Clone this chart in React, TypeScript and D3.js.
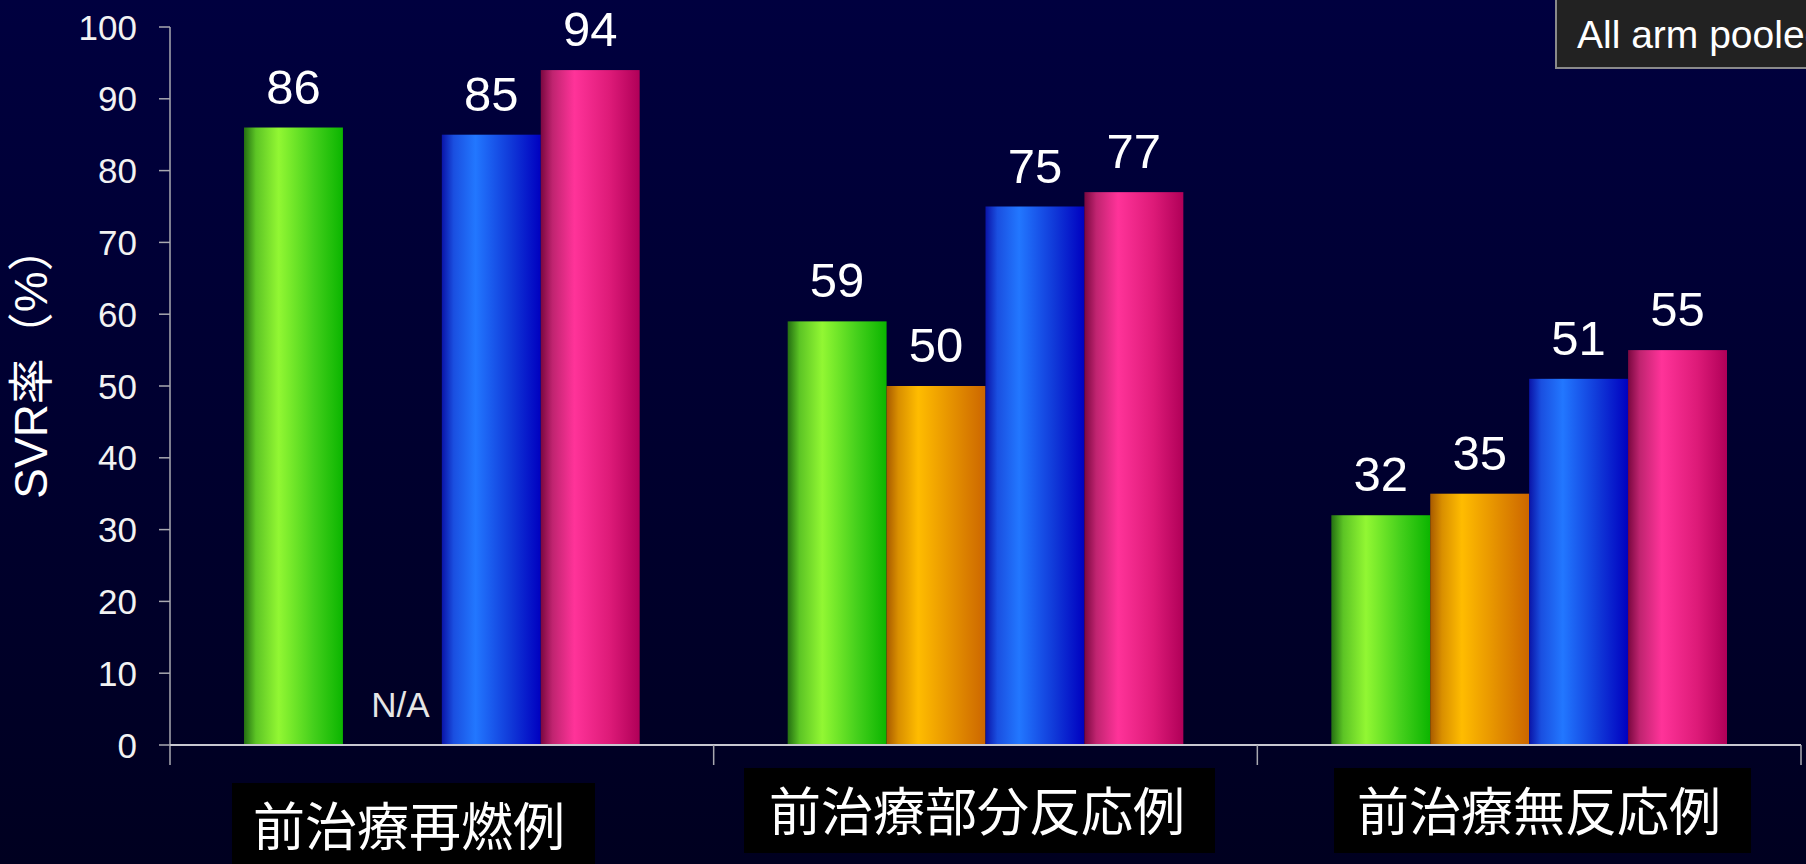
import React, { useEffect } from "react";
import * as d3 from "d3";

const categories = ["前治療再燃例", "前治療部分反応例", "前治療無反応例"];
const seriesKeys = ["arm1", "arm2", "arm3", "arm4"];
const arm1Values = [86, 59, 32];
const arm2Values: (number | null)[] = [null, 50, 35];
const arm3Values = [85, 75, 51];
const arm4Values = [94, 77, 55];
const yTicks = [0, 10, 20, 30, 40, 50, 60, 70, 80, 90, 100];
const missingLabel = "N/A";
const yTitle = "SVR率（%）";
const noteText = "All arm pooled";

const seriesValues: Record<string, (number | null)[]> = {
  arm1: arm1Values,
  arm2: arm2Values,
  arm3: arm3Values,
  arm4: arm4Values,
};

const gradients: Record<string, [number, string][]> = {
  arm1: [[0, "#246f12"], [0.12, "#5cc425"], [0.35, "#92f733"], [0.7, "#45d01c"], [1, "#0bb500"]],
  arm2: [[0, "#a85a00"], [0.12, "#d98f00"], [0.32, "#ffbc00"], [0.7, "#e28c00"], [1, "#cc6600"]],
  arm3: [[0, "#0a14a8"], [0.12, "#1a4fe0"], [0.34, "#2277ff"], [0.7, "#1038d8"], [1, "#0000c0"]],
  arm4: [[0, "#7a0840"], [0.12, "#c02470"], [0.34, "#ff3399"], [0.7, "#dd1a78"], [1, "#b00058"]],
};

const W = 1806;
const H = 864;
const axisLeft = 170;
const axisRight = 1801;
const baseY = 745;
const topY = 27;

export default function App() {
  useEffect(() => {
    document.body.style.margin = "0";
    document.body.style.overflow = "hidden";
    document.body.style.background = "#000022";
  }, []);

  const x0 = d3.scaleBand<string>().domain(categories).range([axisLeft, axisRight]).padding(0);
  const bw = x0.bandwidth();
  const x1 = d3.scaleBand<string>().domain(seriesKeys).range([74, bw - 74]).padding(0);
  const y = d3.scaleLinear().domain([0, 100]).range([baseY, topY]);

  const font = "'Liberation Sans', Arial, 'Noto Sans CJK JP', sans-serif";
  const cjkFont = "'Noto Sans CJK JP', 'Noto Sans CJK SC', sans-serif";

  const boxes = [
    { x: 232, y: 783, w: 363, h: 90, tx: 409, ty: 846 },
    { x: 744, y: 768, w: 471, h: 85, tx: 977, ty: 831 },
    { x: 1334, y: 768, w: 417, h: 85, tx: 1539, ty: 831 },
  ];

  return (
    <svg width={W} height={H} style={{ position: "absolute", left: 0, top: 0, display: "block" }}>
      <defs>
        <linearGradient id="bg" x1="0" y1="0" x2="0" y2="1">
          <stop offset="0" stopColor="#00003f" />
          <stop offset="1" stopColor="#000020" />
        </linearGradient>
        {seriesKeys.map((k) => (
          <linearGradient key={k} id={`g-${k}`} x1="0" y1="0" x2="1" y2="0">
            {gradients[k].map(([o, c], i) => (
              <stop key={i} offset={o} stopColor={c} />
            ))}
          </linearGradient>
        ))}
      </defs>
      <rect x={0} y={0} width={W} height={H} fill="url(#bg)" />

      {/* bars */}
      {categories.map((cat, ci) => (
        <g key={cat} transform={`translate(${x0(cat)},0)`}>
          {seriesKeys.map((k) => {
            const v = seriesValues[k][ci];
            const bx = x1(k)!;
            if (v == null) {
              return (
                <text
                  key={k}
                  x={bx + x1.bandwidth() / 2 + 8}
                  y={717}
                  fill="#e6e6e6"
                  fontSize={35}
                  fontFamily={font}
                  textAnchor="middle"
                >
                  {missingLabel}
                </text>
              );
            }
            return (
              <g key={k}>
                <rect
                  x={bx}
                  y={y(v)}
                  width={x1.bandwidth()}
                  height={baseY - y(v)}
                  fill={`url(#g-${k})`}
                />
                <text
                  x={bx + x1.bandwidth() / 2}
                  y={y(v) - 24}
                  fill="#ffffff"
                  fontSize={49}
                  fontFamily={font}
                  textAnchor="middle"
                >
                  {v}
                </text>
              </g>
            );
          })}
        </g>
      ))}

      {/* y axis */}
      <line x1={axisLeft} x2={axisLeft} y1={topY} y2={765} stroke="#a8a8b0" strokeWidth={1.5} />
      {yTicks.map((t) => (
        <g key={t}>
          <line x1={axisLeft - 11} x2={axisLeft} y1={y(t)} y2={y(t)} stroke="#a8a8b0" strokeWidth={1.5} />
          <text
            x={137}
            y={y(t)}
            dy="0.36em"
            fill="#f2f2f2"
            fontSize={35}
            fontFamily={font}
            textAnchor="end"
          >
            {t}
          </text>
        </g>
      ))}

      {/* x axis */}
      <line x1={axisLeft} x2={axisRight} y1={baseY} y2={baseY} stroke="#c8c8d0" strokeWidth={2} />
      {categories.map((cat) => (
        <line
          key={cat}
          x1={x0(cat)! + bw}
          x2={x0(cat)! + bw}
          y1={baseY}
          y2={765}
          stroke="#a8a8b0"
          strokeWidth={1.5}
        />
      ))}

      {/* y title */}
      <text
        transform="translate(47,362) rotate(-90)"
        fill="#ffffff"
        fontSize={46}
        fontFamily={font}
        textAnchor="middle"
      >
        {yTitle}
      </text>

      {/* category label boxes */}
      {categories.map((cat, i) => (
        <g key={cat}>
          <rect x={boxes[i].x} y={boxes[i].y} width={boxes[i].w} height={boxes[i].h} fill="#000000" />
          <text
            x={boxes[i].tx}
            y={boxes[i].ty}
            fill="#ffffff"
            fontSize={52}
            fontFamily={cjkFont}
            textAnchor="middle"
          >
            {cat}
          </text>
        </g>
      ))}

      {/* note box */}
      <rect x={1556} y={-2} width={300} height={70} fill="#222222" stroke="#8a8a8a" strokeWidth={2} />
      <text x={1577} y={48} fill="#ffffff" fontSize={39} fontFamily={font}>
        {noteText}
      </text>
    </svg>
  );
}
